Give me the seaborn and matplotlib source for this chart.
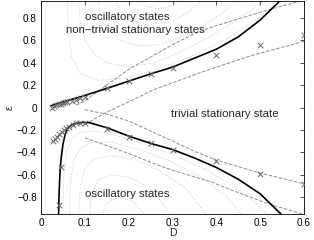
import pandas as pd
import seaborn as sns
import matplotlib.pyplot as plt

# solid boundaries
upper_D = [0.023, 0.05, 0.09, 0.15, 0.2, 0.25, 0.3, 0.35, 0.4, 0.45, 0.5, 0.55]
upper_eps = [0.015, 0.05, 0.095, 0.17, 0.235, 0.30, 0.36, 0.44, 0.52, 0.63, 0.78, 0.97]

lower_D = [0.040, 0.041, 0.043, 0.046, 0.050, 0.055, 0.062, 0.070, 0.080, 0.095,
           0.110, 0.150, 0.200, 0.250, 0.300, 0.350, 0.400, 0.450, 0.500, 0.550]
lower_eps = [-0.97, -0.80, -0.60, -0.45, -0.33, -0.24, -0.18, -0.155, -0.14, -0.133,
             -0.135, -0.18, -0.255, -0.32, -0.375, -0.45, -0.535, -0.64, -0.77, -0.96]

# simulated points (crosses)
cross_up_D = [0.025, 0.03, 0.035, 0.04, 0.045, 0.05, 0.055, 0.06, 0.07, 0.08, 0.09,
              0.1, 0.15, 0.2, 0.25, 0.3, 0.4, 0.5, 0.6]
cross_up_eps = [0.0, 0.01, 0.02, 0.03, 0.035, 0.04, 0.045, 0.05, 0.06, 0.07, 0.085,
                0.095, 0.17, 0.235, 0.30, 0.355, 0.464, 0.555, 0.645]
cross_lo_D = [0.027, 0.032, 0.037, 0.042, 0.047, 0.052, 0.058, 0.065, 0.072, 0.08,
              0.09, 0.1, 0.15, 0.2, 0.25, 0.3, 0.4, 0.5, 0.6, 0.045, 0.042]
cross_lo_eps = [-0.30, -0.28, -0.26, -0.24, -0.22, -0.20, -0.185, -0.17, -0.155, -0.14,
                -0.135, -0.135, -0.19, -0.26, -0.32, -0.375, -0.48, -0.59, -0.68, -0.53, -0.87]

# dashed lines
dash1_D = [0.08, 0.1, 0.15, 0.2, 0.25, 0.3, 0.35, 0.4, 0.5, 0.6]
dash1_eps = [0.02, 0.06, 0.2, 0.34, 0.45, 0.56, 0.66, 0.73, 0.85, 0.96]
dash2_D = [0.1, 0.15, 0.2, 0.258, 0.3, 0.363, 0.4, 0.486, 0.6]
dash2_eps = [-0.15, -0.04, 0.05, 0.16, 0.22, 0.31, 0.36, 0.47, 0.59]
dash3_D = [0.1, 0.15, 0.2, 0.25, 0.3, 0.35, 0.4, 0.5, 0.6]
dash3_eps = [-0.02, -0.06, -0.12, -0.21, -0.30, -0.39, -0.47, -0.585, -0.68]
dash4_D = [0.1, 0.15, 0.2, 0.258, 0.3, 0.386, 0.45, 0.52, 0.6]
dash4_eps = [-0.27, -0.34, -0.41, -0.5, -0.56, -0.66, -0.76, -0.86, -0.955]

# dotted contour lines, upper region
dot_upper = [
    ([0.06, 0.062, 0.07, 0.09, 0.13, 0.2, 0.28, 0.35, 0.42, 0.48, 0.53, 0.55],
     [0.96, 0.7, 0.45, 0.3, 0.24, 0.27, 0.36, 0.47, 0.6, 0.75, 0.9, 0.96]),
    ([0.085, 0.09, 0.1, 0.12, 0.15, 0.2, 0.26, 0.32, 0.38, 0.43, 0.48, 0.51],
     [0.96, 0.75, 0.6, 0.48, 0.4, 0.36, 0.4, 0.5, 0.62, 0.74, 0.87, 0.96]),
    ([0.13, 0.135, 0.15, 0.18, 0.22, 0.27, 0.32, 0.37, 0.42, 0.45],
     [0.96, 0.82, 0.7, 0.6, 0.55, 0.56, 0.63, 0.73, 0.86, 0.96]),
    ([0.17, 0.18, 0.2, 0.24, 0.29, 0.33, 0.37],
     [0.96, 0.87, 0.79, 0.74, 0.76, 0.83, 0.96]),
    ([0.22, 0.24, 0.27, 0.3, 0.32],
     [0.96, 0.9, 0.88, 0.91, 0.96]),
]
# dotted contour lines, lower region
dot_lower = [
    ([0.05, 0.052, 0.058, 0.07, 0.09, 0.12, 0.17, 0.23, 0.3, 0.37, 0.43, 0.48, 0.52],
     [-0.97, -0.6, -0.4, -0.28, -0.22, -0.21, -0.25, -0.32, -0.42, -0.54, -0.68, -0.82, -0.97]),
    ([0.065, 0.068, 0.075, 0.09, 0.12, 0.16, 0.22, 0.29, 0.36, 0.42, 0.46],
     [-0.97, -0.65, -0.47, -0.36, -0.31, -0.31, -0.37, -0.47, -0.61, -0.78, -0.97]),
    ([0.085, 0.09, 0.1, 0.12, 0.16, 0.21, 0.27, 0.33, 0.38],
     [-0.97, -0.7, -0.55, -0.46, -0.43, -0.46, -0.56, -0.72, -0.97]),
    ([0.11, 0.115, 0.13, 0.16, 0.2, 0.25, 0.3],
     [-0.97, -0.78, -0.65, -0.6, -0.62, -0.72, -0.97]),
    ([0.14, 0.15, 0.18, 0.21, 0.24],
     [-0.97, -0.85, -0.8, -0.84, -0.97]),
]

x_ticks = [0, 0.1, 0.2, 0.3, 0.4, 0.5, 0.6]
y_ticks = [-0.8, -0.6, -0.4, -0.2, 0, 0.2, 0.4, 0.6, 0.8]


def draw_line(ax, D, eps, **kw):
    df = pd.DataFrame({"D": D, "eps": eps})
    sns.lineplot(data=df, x="D", y="eps", sort=False, estimator=None, ax=ax, **kw)


def main():
    sns.set_theme(style="white")
    plt.rcParams["font.family"] = ["Liberation Sans", "DejaVu Sans"]

    fig = plt.figure(figsize=(3.14, 2.40), dpi=100)
    ax = fig.add_axes([41 / 314, 26 / 240, 263 / 314, 213 / 240])

    for D, eps in dot_upper + dot_lower:
        draw_line(ax, D, eps, color="#cacaca", linestyle=":", linewidth=0.7)

    for D, eps in [(dash1_D, dash1_eps), (dash2_D, dash2_eps),
                   (dash3_D, dash3_eps), (dash4_D, dash4_eps)]:
        draw_line(ax, D, eps, color="#8c8c8c", linestyle="--", linewidth=0.7)

    draw_line(ax, upper_D, upper_eps, color="black", linewidth=1.2)
    draw_line(ax, lower_D, lower_eps, color="black", linewidth=1.2)

    crosses = pd.DataFrame({"D": cross_up_D + cross_lo_D,
                            "eps": cross_up_eps + cross_lo_eps})
    sns.scatterplot(data=crosses, x="D", y="eps", marker="x", color="#666666",
                    s=16, linewidth=0.7, ax=ax, zorder=5)

    ax.text(0.196, 0.81, "oscillatory states", ha="center", va="center", fontsize=8.2)
    ax.text(0.215, 0.69, "non\u2212trivial stationary states", ha="center",
            va="center", fontsize=8.2)
    ax.text(0.42, -0.055, "trivial stationary state", ha="center", va="center",
            fontsize=8.2)
    ax.text(0.196, -0.77, "oscillatory states", ha="center", va="center", fontsize=8.2)

    ax.set_xlim(0, 0.6)
    ax.set_ylim(-0.95, 0.95)
    ax.set_xticks(x_ticks)
    ax.set_xticklabels([f"{t:g}" for t in x_ticks])
    ax.set_yticks(y_ticks)
    ax.set_yticklabels([f"{t:g}".replace("-", "\u2212") for t in y_ticks])
    ax.tick_params(direction="in", length=3, width=0.5, top=True, right=True,
                   labelsize=7.2, colors="black", pad=3)
    ax.set_xlabel("D", fontsize=7.5, labelpad=0)
    ax.set_ylabel("\u03b5", fontsize=7.5, labelpad=2)
    for s in ax.spines.values():
        s.set_color("black")
        s.set_linewidth(0.6)

    fig.savefig("out.png", dpi=100)


if __name__ == "__main__":
    main()
